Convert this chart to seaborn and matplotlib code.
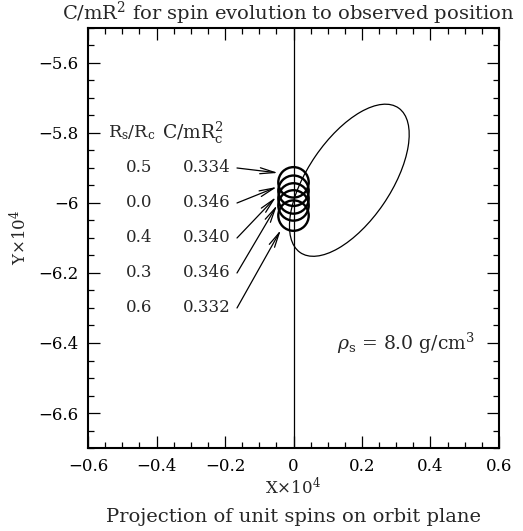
import numpy as np
import pandas as pd
import matplotlib
matplotlib.use("Agg")
import matplotlib.pyplot as plt
from matplotlib.patches import Ellipse
from matplotlib.ticker import MultipleLocator, FixedLocator, FixedFormatter
import seaborn as sns

# ---- data ----
rs_rc = ["0.5", "0.0", "0.4", "0.3", "0.6"]
c_mr2 = ["0.334", "0.346", "0.340", "0.346", "0.332"]
row_y = [-5.9, -6.0, -6.1, -6.2, -6.3]

# spin-position circles (centres)
circle_x = [0.0, 0.0, 0.0, 0.0, 0.0]
circle_y = [-5.941, -5.965, -5.987, -6.007, -6.036]

# arrow tails / tips
arrow_tail_x = [-0.165, -0.165, -0.165, -0.165, -0.165]
arrow_tip_x = [-0.045, -0.048, -0.051, -0.048, -0.037]
arrow_tip_y = [-5.914, -5.954, -5.983, -6.006, -6.077]

# precession ellipse: centre, full axes, angle (deg)
ellipse_center = [0.163, -5.935]
ellipse_axes = [0.503, 0.241]
ellipse_angle = 55.0

x_ticks = [-0.6, -0.4, -0.2, 0.0, 0.2, 0.4, 0.6]
x_ticklabels = ["\u22120.6", "\u22120.4", "\u22120.2", "0", "0.2", "0.4", "0.6"]
y_ticks = [-5.6, -5.8, -6.0, -6.2, -6.4, -6.6]
y_ticklabels = ["\u22125.6", "\u22125.8", "\u22126", "\u22126.2", "\u22126.4", "\u22126.6"]

# ---- style ----
sns.set_theme(style="ticks")
plt.rcParams["font.family"] = ["DejaVu Serif"]
plt.rcParams["mathtext.fontset"] = "dejavuserif"

fig = plt.figure(figsize=(5.23, 5.31), dpi=100)
ax = fig.add_axes([0.1683, 0.1563, 0.7858, 0.791])

df = pd.DataFrame({"x": circle_x, "y": circle_y})
sns.scatterplot(data=df, x="x", y="y", ax=ax, s=480, marker="o",
                facecolors="none", edgecolor="black", linewidth=1.7, legend=False)

ax.axvline(0.0, color="black", lw=0.9, zorder=1)

ell = Ellipse(ellipse_center, ellipse_axes[0], ellipse_axes[1], angle=ellipse_angle,
              fill=False, edgecolor="black", lw=0.9)
ax.add_patch(ell)

fs = 12
# table header and rows
ax.text(-0.473, -5.8, r"R$_{\rm s}$/R$_{\rm c}$", ha="center", va="center", fontsize=12.5)
ax.text(-0.385, -5.8, r"C/mR$_{\rm c}^{2}$", ha="left", va="center", fontsize=13.5)
for a, c, yv, tx, px, py in zip(rs_rc, c_mr2, row_y, arrow_tail_x, arrow_tip_x, arrow_tip_y):
    ax.text(-0.45, yv, a, ha="center", va="center", fontsize=fs)
    ax.text(-0.323, yv, c, ha="left", va="center", fontsize=fs)
    ax.annotate("", xy=(px, py), xytext=(tx, yv),
                arrowprops=dict(arrowstyle="->,head_length=0.9,head_width=0.18",
                                color="black", lw=0.9, shrinkA=0, shrinkB=0))

ax.text(0.53, -6.4, r"$\rho_{\rm s}$ = 8.0 g/cm$^3$", ha="right", va="center", fontsize=13.5)

ax.set_xlim(-0.6, 0.6)
ax.set_ylim(-6.7, -5.5)
ax.xaxis.set_major_locator(FixedLocator(x_ticks))
ax.xaxis.set_major_formatter(FixedFormatter(x_ticklabels))
ax.yaxis.set_major_locator(FixedLocator(y_ticks))
ax.yaxis.set_major_formatter(FixedFormatter(y_ticklabels))
ax.xaxis.set_minor_locator(MultipleLocator(0.05))
ax.yaxis.set_minor_locator(MultipleLocator(0.05))
ax.tick_params(which="both", direction="in", top=True, right=True, colors="black")
ax.tick_params(which="major", length=8.5, width=0.9, labelsize=fs, pad=7)
ax.tick_params(which="minor", length=4.3, width=0.9)
ax.set_xlabel("")
ax.set_ylabel("")
for sp in ax.spines.values():
    sp.set_linewidth(1.5)
    sp.set_color("black")

fig.text(0.551, 0.9755, r"C/mR$^2$ for spin evolution to observed position",
         ha="center", va="center", fontsize=14)
fig.text(0.561, 0.081, r"X$\times$10$^4$", ha="center", va="center", fontsize=fs)
fig.text(0.038, 0.552, r"Y$\times$10$^4$", ha="center", va="center", fontsize=fs, rotation=90)
fig.text(0.561, 0.0264, "Projection of unit spins on orbit plane",
         ha="center", va="center", fontsize=14)

fig.savefig("out.png", dpi=100)
